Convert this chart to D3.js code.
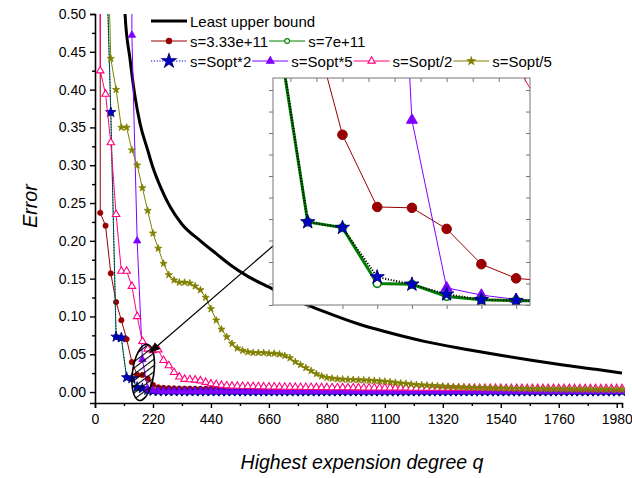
<!DOCTYPE html>
<html>
<head>
<meta charset="utf-8">
<script src="https://cdn.jsdelivr.net/npm/d3@7"></script>
<style>
  html, body { margin: 0; padding: 0; background: #fff; }
  svg { display: block; font-family: Arial, "Liberation Sans", sans-serif; }
</style>
</head>
<body>
<svg id="chart" width="632" height="478"></svg>
<script>
// Expansion degrees shared by all sampled series
const degrees = d3.range(0, 2001, 20);

// Least upper bound (q, error)
const boundQ   = [100, 114, 133, 150, 171, 200, 217, 250, 285, 330, 400, 460, 514, 580, 659, 760, 880, 1000, 1100, 1250, 1400, 1550, 1656, 1770, 1900, 2000];
const boundErr = [0.62, 0.50, 0.44, 0.395, 0.355, 0.32, 0.30, 0.27, 0.245, 0.222, 0.20, 0.183, 0.168, 0.153, 0.139, 0.122, 0.105, 0.090, 0.080, 0.067, 0.057, 0.048, 0.042, 0.036, 0.030, 0.025];

// Error per degree for each truncation parameter s
const errS333 = [30.0, 0.237, 0.22, 0.157, 0.119, 0.095, 0.070, 0.0396, 0.0228, 0.0226, 0.0177, 0.0095, 0.0062, 0.0055, 0.005, 0.0048, 0.0046, 0.0045, 0.0044, 0.0043, 0.0042,
  0.0042, 0.0041, 0.0041, 0.004, 0.004, 0.004, 0.0039, 0.0039, 0.0039, 0.0038, 0.0038, 0.0038, 0.0037, 0.0037, 0.0037, 0.0036, 0.0036, 0.0036, 0.0036, 0.0035,
  0.0035, 0.0035, 0.0035, 0.0034, 0.0034, 0.0034, 0.0034, 0.0034, 0.0033, 0.0033, 0.0033, 0.0033, 0.0033, 0.0033, 0.0032, 0.0032, 0.0032, 0.0032, 0.0032, 0.0032,
  0.0031, 0.0031, 0.0031, 0.0031, 0.0031, 0.0031, 0.0031, 0.003, 0.003, 0.003, 0.003, 0.003, 0.003, 0.003, 0.003, 0.003, 0.0029, 0.0029, 0.0029, 0.0029,
  0.0029, 0.0029, 0.0029, 0.0029, 0.0029, 0.0029, 0.0028, 0.0028, 0.0028, 0.0028, 0.0028, 0.0028, 0.0028, 0.0028, 0.0028, 0.0028, 0.0028, 0.0028, 0.0028, 0.0028];

const errS7 = [30.0, 12.0, 0.62, 0.369, 0.073, 0.071, 0.0193, 0.018, 0.005, 0.0048, 0.002, 0.0012, 0.001, 0.001, 0.0009, 0.0009, 0.0009, 0.0008, 0.0008, 0.0008, 0.0008,
  0.0008, 0.0008, 0.0007, 0.0007, 0.0007, 0.0007, 0.0007, 0.0007, 0.0007, 0.0007, 0.0007, 0.0007, 0.0007, 0.0007, 0.0007, 0.0007, 0.0007, 0.0007, 0.0007, 0.0007,
  0.0007, 0.0007, 0.0007, 0.0007, 0.0007, 0.0007, 0.0007, 0.0007, 0.0007, 0.0007, 0.0007, 0.0007, 0.0007, 0.0007, 0.0007, 0.0007, 0.0007, 0.0007, 0.0007, 0.0007,
  0.0007, 0.0007, 0.0007, 0.0007, 0.0007, 0.0007, 0.0007, 0.0007, 0.0007, 0.0007, 0.0007, 0.0007, 0.0007, 0.0007, 0.0007, 0.0007, 0.0007, 0.0007, 0.0007, 0.0007,
  0.0007, 0.0007, 0.0007, 0.0007, 0.0007, 0.0007, 0.0007, 0.0007, 0.0007, 0.0007, 0.0007, 0.0007, 0.0007, 0.0007, 0.0007, 0.0007, 0.0007, 0.0007, 0.0007, 0.0007];

const errSopt2 = [30.0, 11.0, 0.60, 0.37, 0.073, 0.072, 0.0193, 0.018, 0.0065, 0.0048, 0.0025, 0.0012, 0.001, 0.0009, 0.0008, 0.0008, 0.0008, 0.0007, 0.0007, 0.0007, 0.0007,
  0.0007, 0.0007, 0.0006, 0.0006, 0.0006, 0.0006, 0.0006, 0.0006, 0.0006, 0.0006, 0.0006, 0.0006, 0.0006, 0.0006, 0.0006, 0.0006, 0.0006, 0.0006, 0.0006, 0.0006,
  0.0006, 0.0006, 0.0006, 0.0006, 0.0006, 0.0006, 0.0006, 0.0006, 0.0006, 0.0006, 0.0006, 0.0006, 0.0006, 0.0006, 0.0006, 0.0006, 0.0006, 0.0006, 0.0006, 0.0006,
  0.0006, 0.0006, 0.0006, 0.0006, 0.0006, 0.0006, 0.0006, 0.0006, 0.0006, 0.0006, 0.0006, 0.0006, 0.0006, 0.0006, 0.0006, 0.0006, 0.0006, 0.0006, 0.0006, 0.0006,
  0.0006, 0.0006, 0.0006, 0.0006, 0.0006, 0.0006, 0.0006, 0.0006, 0.0006, 0.0006, 0.0006, 0.0006, 0.0006, 0.0006, 0.0006, 0.0006, 0.0006, 0.0006, 0.0006, 0.0006];

const errSopt5x = [90.0, 80.0, 70.0, 60.0, 50.0, 40.0, 30.0, 0.472, 0.20, 0.043, 0.004, 0.0023, 0.0013, 0.0012, 0.0011, 0.0011, 0.001, 0.001, 0.001, 0.001, 0.001,
  0.001, 0.001, 0.001, 0.001, 0.001, 0.001, 0.001, 0.001, 0.001, 0.001, 0.001, 0.001, 0.001, 0.001, 0.001, 0.001, 0.001, 0.001, 0.001, 0.001,
  0.001, 0.001, 0.001, 0.001, 0.001, 0.001, 0.001, 0.001, 0.001, 0.001, 0.001, 0.001, 0.001, 0.001, 0.001, 0.001, 0.001, 0.001, 0.001, 0.001,
  0.001, 0.001, 0.001, 0.001, 0.001, 0.001, 0.001, 0.001, 0.001, 0.001, 0.001, 0.001, 0.001, 0.001, 0.001, 0.001, 0.001, 0.001, 0.001, 0.001,
  0.001, 0.001, 0.001, 0.001, 0.001, 0.001, 0.001, 0.001, 0.001, 0.001, 0.001, 0.001, 0.001, 0.001, 0.001, 0.001, 0.001, 0.001, 0.001, 0.001];

const errSoptHalf = [30.0, 0.425, 0.394, 0.33, 0.235, 0.16, 0.16, 0.14, 0.10, 0.067, 0.057, 0.055, 0.056, 0.042, 0.035, 0.026, 0.020, 0.017, 0.0165, 0.016, 0.015,
  0.013, 0.011, 0.010, 0.009, 0.0085, 0.008, 0.0078, 0.0076, 0.0075, 0.0074, 0.0072, 0.007, 0.0069, 0.0068, 0.0067, 0.0066, 0.0065, 0.0064, 0.0063, 0.0062,
  0.0062, 0.0061, 0.006, 0.006, 0.0059, 0.0059, 0.0058, 0.0058, 0.0057, 0.0057, 0.0056, 0.0056, 0.0056, 0.0055, 0.0055, 0.0055, 0.0054, 0.0054, 0.0054, 0.0053,
  0.0053, 0.0053, 0.0053, 0.0052, 0.0052, 0.0052, 0.0052, 0.0051, 0.0051, 0.0051, 0.0051, 0.005, 0.005, 0.005, 0.005, 0.005, 0.005, 0.0049, 0.0049, 0.0049,
  0.0049, 0.0049, 0.0049, 0.0048, 0.0048, 0.0048, 0.0048, 0.0048, 0.0048, 0.0048, 0.0047, 0.0047, 0.0047, 0.0047, 0.0047, 0.0047, 0.0047, 0.0047, 0.0047, 0.0047];

const errSopt5 = [50.0, 20.0, 0.70, 0.441, 0.40, 0.35, 0.35, 0.32, 0.30, 0.27, 0.24, 0.21, 0.19, 0.17, 0.155, 0.148, 0.145, 0.145, 0.144, 0.14, 0.135,
  0.125, 0.11, 0.095, 0.083, 0.073, 0.064, 0.058, 0.055, 0.053, 0.052, 0.052, 0.052, 0.051, 0.051, 0.05, 0.048, 0.045, 0.04, 0.036, 0.032,
  0.028, 0.024, 0.021, 0.019, 0.018, 0.0172, 0.0168, 0.0165, 0.0163, 0.016, 0.0157, 0.0153, 0.015, 0.0145, 0.014, 0.0133, 0.0125, 0.0117, 0.011, 0.0103,
  0.0097, 0.0092, 0.0088, 0.0084, 0.008, 0.0076, 0.0072, 0.0068, 0.0065, 0.0062, 0.006, 0.0058, 0.0056, 0.0054, 0.0052, 0.005, 0.0049, 0.0048, 0.0046, 0.0045,
  0.0044, 0.0043, 0.0042, 0.0041, 0.004, 0.004, 0.0039, 0.0038, 0.0038, 0.0037, 0.0036, 0.0036, 0.0035, 0.0035, 0.0034, 0.0034, 0.0033, 0.0033, 0.0032, 0.0032];

const seriesNames  = ["s=3.33e+11", "s=7e+11", "s=Sopt*2", "s=Sopt*5", "s=Sopt/2", "s=Sopt/5"];
const seriesValues = [errS333, errS7, errSopt2, errSopt5x, errSoptHalf, errSopt5];
const seriesColors = ["#990000", "#008000", "#0000cc", "#8000ff", "#ff0080", "#808000"];

// Axis ticks
const xTicks = [0, 220, 440, 660, 880, 1100, 1320, 1540, 1760, 1980];
const yTicks = [0.00, 0.05, 0.10, 0.15, 0.20, 0.25, 0.30, 0.35, 0.40, 0.45, 0.50];

// Magnified window (degree and error ranges)
const zoomDegrees = [100, 248];
const zoomErrors  = [0, 0.0528];

const svg = d3.select("#chart");

const x = d3.scaleLinear().domain([0, 2000]).range([95, 622]);
const y = d3.scaleLinear().domain([-0.0145, 0.5]).range([403, 14]);

// Marker styles per series (main plot size, inset size)
const markerStyle = [
  { type: d3.symbolCircle,   size: 22, inset: 72, fill: c => c,       stroke: c => c,        dash: null },
  { type: d3.symbolCircle,   size: 18, inset: 48, fill: () => "#fff", stroke: c => c,        dash: null },
  { type: d3.symbolStar,     size: 34, inset: 62, fill: c => c,       stroke: () => "#000080", dash: "1.2,1.6" },
  { type: d3.symbolTriangle, size: 24, inset: 52, fill: c => c,       stroke: c => c,        dash: null },
  { type: d3.symbolTriangle, size: 24, inset: 52, fill: () => "#fff", stroke: c => c,        dash: null },
  { type: d3.symbolStar,     size: 16, inset: 40, fill: c => c,       stroke: c => c,        dash: null }
];

const defs = svg.append("defs");
defs.append("clipPath").attr("id", "plotClip")
  .append("rect").attr("x", 95).attr("y", 14).attr("width", 530).attr("height", 389);

// hatch for the highlighted region (transparent between strokes)
const hatch = defs.append("pattern").attr("id", "hatch")
  .attr("patternUnits", "userSpaceOnUse").attr("width", 5).attr("height", 5)
  .attr("patternTransform", "rotate(45)");
hatch.append("rect").attr("x", 0).attr("y", 0).attr("width", 1.1).attr("height", 5)
  .attr("fill", "#000");

defs.append("marker").attr("id", "arrowHead")
  .attr("viewBox", "0 0 10 10").attr("refX", 9).attr("refY", 5)
  .attr("markerWidth", 9).attr("markerHeight", 9).attr("orient", "auto-start-reverse")
  .append("path").attr("d", "M0,1 L10,5 L0,9 z").attr("fill", "#000");

// Axes
const yAxis = d3.axisLeft(y).tickValues(yTicks).tickFormat(d3.format(".2f")).tickSize(5).tickPadding(4);
const yMinor = d3.axisLeft(y).tickValues(d3.range(0.025, 0.5, 0.05)).tickSize(3).tickFormat("");
const xAxis = d3.axisBottom(x).tickValues(xTicks).tickFormat(d3.format("d")).tickSize(5).tickPadding(6);
const xMinor = d3.axisBottom(x).tickValues(d3.range(110, 2000, 220)).tickSize(3).tickFormat("");

function styleAxis(g) {
  g.select(".domain").attr("stroke", "#000").attr("stroke-width", 1.6);
  g.selectAll(".tick line").attr("stroke", "#000").attr("stroke-width", 1.4);
  g.selectAll("text").attr("font-size", 14).attr("fill", "#000").attr("font-family", "Arial, 'Liberation Sans', sans-serif");
}

svg.append("g").attr("transform", "translate(95,0)").call(yMinor).call(styleAxis).select(".domain").remove();
svg.append("g").attr("transform", "translate(0,403)").call(xMinor).call(styleAxis).select(".domain").remove();
svg.append("g").attr("transform", "translate(95,0)").call(yAxis).call(styleAxis);
svg.append("g").attr("transform", "translate(0,403)").call(xAxis).call(styleAxis);

// Axis titles
svg.append("text").attr("transform", "translate(37,206) rotate(-90)")
  .attr("text-anchor", "middle").attr("font-size", 19.5).attr("font-style", "italic").text("Error");
svg.append("text").attr("x", 362).attr("y", 469)
  .attr("text-anchor", "middle").attr("font-size", 19.5).attr("font-style", "italic").text("Highest expension degree q");

// Series
const plot = svg.append("g").attr("clip-path", "url(#plotClip)");

function drawSeries(g, xs, ys, idx, opts) {
  const color = seriesColors[idx];
  const st = markerStyle[idx];
  const pts = degrees.map((d, i) => [d, seriesValues[idx][i]]);
  const line = d3.line().x(d => xs(d[0])).y(d => ys(d[1]));
  g.append("path").datum(pts).attr("d", line)
    .attr("fill", "none").attr("stroke", opts.lineColor ? opts.lineColor(idx) : color)
    .attr("stroke-width", opts.lineWidth(idx))
    .attr("stroke-dasharray", st.dash);
  g.selectAll(null).data(pts).enter().append("path")
    .attr("transform", d => `translate(${xs(d[0])},${ys(d[1])})`)
    .attr("d", d3.symbol().type(st.type).size(opts.inset ? st.inset : st.size))
    .attr("fill", st.fill(color)).attr("stroke", st.stroke(color))
    .attr("stroke-width", opts.markerStroke(idx));
}

// least upper bound
const boundPts = boundQ.map((d, i) => [d, boundErr[i]]);
plot.append("path").datum(boundPts)
  .attr("d", d3.line().x(d => x(d[0])).y(d => y(d[1])).curve(d3.curveMonotoneX))
  .attr("fill", "none").attr("stroke", "#000").attr("stroke-width", 3);

[0, 1, 2, 3, 4, 5].forEach(i => drawSeries(plot, x, y, i, {
  inset: false, markerStroke: k => (k === 1 || k === 4 ? 1.1 : 0.8), lineWidth: () => 1
}));

// highlighted region around the knee of the curves
const ellC = [183, 0.026], ellR = [40.5, 0.0375];
svg.append("ellipse")
  .attr("cx", x(ellC[0])).attr("cy", y(ellC[1]))
  .attr("rx", x(ellC[0] + ellR[0]) - x(ellC[0]))
  .attr("ry", y(0) - y(ellR[1]))
  .attr("transform", `rotate(8,${x(ellC[0])},${y(ellC[1])})`)
  .attr("fill", "url(#hatch)")
  .attr("stroke", "#000").attr("stroke-width", 1.6);

// Inset: magnified view
const ix = d3.scaleLinear().domain(zoomDegrees).range([273, 530]);
const iy = d3.scaleLinear().domain(zoomErrors).range([305, 78]);

// connector arrow from the inset to the highlighted region
svg.append("line")
  .attr("x1", 273).attr("y1", 246)
  .attr("x2", x(210)).attr("y2", y(0.053))
  .attr("stroke", "#000").attr("stroke-width", 1.2)
  .attr("marker-end", "url(#arrowHead)");

const inset = svg.append("g");
inset.append("rect").attr("x", 273).attr("y", 78).attr("width", 257).attr("height", 227)
  .attr("fill", "#fff");
defs.append("clipPath").attr("id", "insetClip")
  .append("rect").attr("x", 273).attr("y", 78).attr("width", 257).attr("height", 227);

const insetPlot = inset.append("g").attr("clip-path", "url(#insetClip)");
const insetOrder = [4, 0, 3, 1, 2];
insetOrder.forEach(i => drawSeries(insetPlot, ix, iy, i, {
  inset: true,
  markerStroke: k => (k === 1 ? 1.6 : 1),
  lineWidth: k => (k === 1 ? 3 : (k === 2 ? 2 : 1)),
  lineColor: k => (k === 2 ? "#000" : seriesColors[k])
}));

inset.append("rect").attr("x", 273).attr("y", 78).attr("width", 257).attr("height", 227)
  .attr("fill", "none").attr("stroke", "#777").attr("stroke-width", 1);

const insetTickStyle = g => {
  g.select(".domain").remove();
  g.selectAll(".tick line").attr("stroke", "#777");
};
inset.append("g").attr("transform", "translate(273,0)")
  .call(d3.axisLeft(iy).tickValues(d3.range(0, 0.051, 0.005)).tickSize(4).tickFormat("")).call(insetTickStyle);
inset.append("g").attr("transform", "translate(530,0)")
  .call(d3.axisLeft(iy).tickValues(d3.range(0, 0.051, 0.005)).tickSize(4).tickFormat("")).call(insetTickStyle);
inset.append("g").attr("transform", "translate(0,305)")
  .call(d3.axisBottom(ix).tickValues(d3.range(120, 248, 20)).tickSize(4).tickFormat("")).call(insetTickStyle);
inset.append("g").attr("transform", "translate(0,78)")
  .call(d3.axisBottom(ix).tickValues(d3.range(110, 248, 15)).tickSize(4).tickFormat("")).call(insetTickStyle);

// Legend
const legend = svg.append("g").attr("font-size", 15);
const rowY = [21, 41, 61];
function legendEntry(xStart, yRow, label, idx) {
  const g = legend.append("g");
  if (idx < 0) {
    g.append("line").attr("x1", xStart).attr("x2", xStart + 36).attr("y1", yRow).attr("y2", yRow)
      .attr("stroke", "#000").attr("stroke-width", 3);
  } else {
    const st = markerStyle[idx], c = seriesColors[idx];
    g.append("line").attr("x1", xStart).attr("x2", xStart + 36).attr("y1", yRow).attr("y2", yRow)
      .attr("stroke", c).attr("stroke-width", 1.2).attr("stroke-dasharray", st.dash);
    g.append("path").attr("transform", `translate(${xStart + 18},${yRow})`)
      .attr("d", d3.symbol().type(st.type).size(idx === 2 ? 60 : st.size))
      .attr("fill", st.fill(c)).attr("stroke", st.stroke(c)).attr("stroke-width", 1.1);
  }
  const t = g.append("text").attr("x", xStart + 39).attr("y", yRow + 5.5).text(label);
  return xStart + 39 + t.node().getComputedTextLength() + 1;
}
legendEntry(151, rowY[0], "Least upper bound", -1);
let lx = legendEntry(151, rowY[1], seriesNames[0], 0);
legendEntry(lx, rowY[1], seriesNames[1], 1);
lx = legendEntry(151, rowY[2], seriesNames[2], 2);
lx = legendEntry(lx, rowY[2], seriesNames[3], 3);
lx = legendEntry(lx, rowY[2], seriesNames[4], 4);
legendEntry(lx, rowY[2], seriesNames[5], 5);
</script>
</body>
</html>
